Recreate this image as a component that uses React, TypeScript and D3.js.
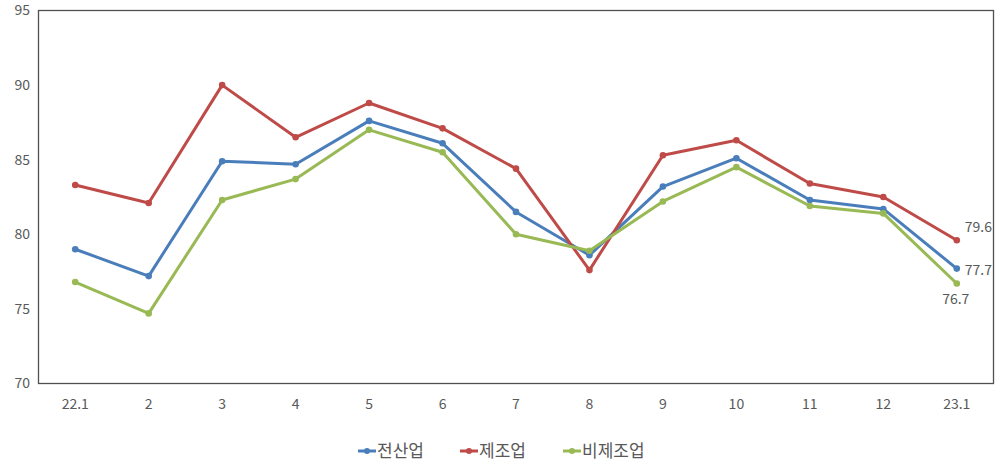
import React from "react";
import * as d3 from "d3";

const categories = ["22.1", "2", "3", "4", "5", "6", "7", "8", "9", "10", "11", "12", "23.1"];
const allIndustry = [79.0, 77.2, 84.9, 84.7, 87.6, 86.1, 81.5, 78.6, 83.2, 85.1, 82.3, 81.7, 77.7];
const manufacturing = [83.3, 82.1, 90.0, 86.5, 88.8, 87.1, 84.4, 77.6, 85.3, 86.3, 83.4, 82.5, 79.6];
const nonManufacturing = [76.8, 74.7, 82.3, 83.7, 87.0, 85.5, 80.0, 78.9, 82.2, 84.5, 81.9, 81.4, 76.7];
const yTicks = [70, 75, 80, 85, 90, 95];
const seriesNames = ["전산업", "제조업", "비제조업"];

const W = 1000, H = 464;
const L = 38.5, R = 993.5, T = 10.5, B = 383.5;
const FONT = "'Noto Sans CJK KR', 'Noto Sans', sans-serif";
const TXT = "#595959";

export default function App() {
  const x = d3.scalePoint<string>().domain(categories).range([L, R]).padding(0.5);
  const y = d3.scaleLinear().domain([70, 95]).range([B, T]);
  const line = d3.line<number>().x((_, i) => x(categories[i])!).y((d) => y(d));
  const series = [
    { name: seriesNames[0], data: allIndustry, color: "#4A7EBB" },
    { name: seriesNames[1], data: manufacturing, color: "#BE4B48" },
    { name: seriesNames[2], data: nonManufacturing, color: "#98B954" },
  ];
  const last = categories.length - 1;
  const lx = x(categories[last])!;
  const legendX = [358, 460, 563];
  return (
    <svg width={W} height={H} style={{ position: "absolute", left: 0, top: 0 }} fontFamily={FONT}>
      <rect x={0} y={0} width={W} height={H} fill="#fff" />
      <rect x={L} y={T} width={R - L} height={B - T} fill="none" stroke="#505050" strokeWidth={1.3} />
      {yTicks.map((t) => (
        <text key={t} x={30} y={y(t)} dy="0.35em" textAnchor="end" fontSize={14} fill={TXT}>{t}</text>
      ))}
      {categories.map((c) => (
        <text key={c} x={x(c)!} y={409} textAnchor="middle" fontSize={14} fill={TXT}>{c}</text>
      ))}
      {series.map((s) => (
        <g key={s.name}>
          <path d={line(s.data)!} fill="none" stroke={s.color} strokeWidth={3} strokeLinejoin="round" />
          {s.data.map((v, i) => (
            <circle key={i} cx={x(categories[i])!} cy={y(v)} r={3.3} fill={s.color} />
          ))}
        </g>
      ))}
      <text x={lx + 8} y={y(manufacturing[last]) - 8} fontSize={14} fill={TXT}>{manufacturing[last].toFixed(1)}</text>
      <text x={lx + 8} y={y(allIndustry[last]) + 1} dy="0.35em" fontSize={14} fill={TXT}>{allIndustry[last].toFixed(1)}</text>
      <text x={lx - 1} y={y(nonManufacturing[last]) + 20} textAnchor="middle" fontSize={14} fill={TXT}>{nonManufacturing[last].toFixed(1)}</text>
      {series.map((s, i) => (
        <g key={s.name} transform={`translate(${legendX[i]},451)`}>
          <line x1={0} x2={18} y1={0} y2={0} stroke={s.color} strokeWidth={3} />
          <circle cx={9} cy={0} r={3} fill={s.color} />
          <text x={19} y={0} dy="0.35em" fontSize={17} fill={TXT}>{s.name}</text>
        </g>
      ))}
    </svg>
  );
}
